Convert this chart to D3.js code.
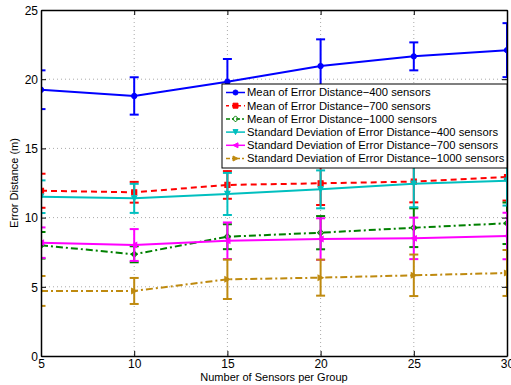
<!DOCTYPE html>
<html>
<head>
<meta charset="utf-8">
<script src="https://cdn.jsdelivr.net/npm/d3@7"></script>
<style>
  body { margin: 0; background: #fff; }
  svg text { font-family: "Liberation Sans", Arial, sans-serif; fill: #000; }
</style>
</head>
<body>
<svg id="chart"></svg>
<script>
// Values
const sensors = [5, 10, 15, 20, 25, 30];
const mean400 = [19.24, 18.79, 19.82, 20.95, 21.65, 22.1];
const mean400Err = [1.4, 1.35, 1.64, 1.93, 1.01, 1.95];
const mean700 = [11.94, 11.83, 12.36, 12.48, 12.6, 12.93];
const mean700Err = [1.23, 0.75, 1.0, 1.57, 1.5, 1.7];
const mean1000 = [8.0, 7.35, 8.62, 8.91, 9.27, 9.59];
const mean1000Err = [0.96, 0.58, 0.9, 1.2, 1.4, 1.5];
const std400 = [11.51, 11.39, 11.71, 12.04, 12.45, 12.67];
const std400Err = [1.18, 1.05, 1.52, 1.37, 1.7, 1.8];
const std700 = [8.19, 8.02, 8.33, 8.45, 8.5, 8.67];
const std700Err = [1.1, 1.15, 1.32, 1.5, 1.5, 1.68];
const std1000 = [4.7, 4.7, 5.54, 5.66, 5.83, 6.0];
const std1000Err = [1.08, 0.94, 1.42, 1.3, 1.5, 1.66];
const xTicks = [5, 10, 15, 20, 25, 30];
const yTicks = [0, 5, 10, 15, 20, 25];

const series = [
  {name: 'Mean of Error Distance\u2212400 sensors', y: mean400, e: mean400Err, color: '#0000ff', dash: null, marker: 'circle'},
  {name: 'Mean of Error Distance\u2212700 sensors', y: mean700, e: mean700Err, color: '#ff0000', dash: '6,4', marker: 'square'},
  {name: 'Mean of Error Distance\u22121000 sensors', y: mean1000, e: mean1000Err, color: '#008000', dash: '7,3,2,3', marker: 'diamond'},
  {name: 'Standard Deviation of Error Distance\u2212400 sensors', y: std400, e: std400Err, color: '#00bfbf', dash: null, marker: 'down'},
  {name: 'Standard Deviation of Error Distance\u2212700 sensors', y: std700, e: std700Err, color: '#ff00ff', dash: null, marker: 'left'},
  {name: 'Standard Deviation of Error Distance\u22121000 sensors', y: std1000, e: std1000Err, color: '#bf8a0f', dash: '7,3,2,3', marker: 'right'}
];

const W = 511, H = 385;
const margin = {top: 10, right: 4, bottom: 29, left: 41};
const width = W - margin.left - margin.right;
const height = H - margin.top - margin.bottom;

const svg = d3.select('#chart').attr('width', W).attr('height', H);
const chart = svg.append('g').attr('transform', `translate(${margin.left},${margin.top})`);

const xScale = d3.scaleLinear().domain([5, 30]).range([0, width]);
const yScale = d3.scaleLinear().domain([0, 25]).range([height, 0]);

svg.append('defs').append('clipPath').attr('id', 'clip')
  .append('rect').attr('width', width).attr('height', height);

// grid
chart.append('g').selectAll('line').data(xTicks.slice(1, -1)).join('line')
  .attr('x1', d => xScale(d)).attr('x2', d => xScale(d))
  .attr('y1', 0).attr('y2', height)
  .attr('stroke', '#aaa').attr('stroke-width', 1).attr('stroke-dasharray', '1,3');
chart.append('g').selectAll('line').data(yTicks.slice(1, -1)).join('line')
  .attr('y1', d => yScale(d)).attr('y2', d => yScale(d))
  .attr('x1', 0).attr('x2', width)
  .attr('stroke', '#aaa').attr('stroke-width', 1).attr('stroke-dasharray', '1,3');

// series
const plot = chart.append('g').attr('clip-path', 'url(#clip)');
const line = d3.line().x((d, i) => xScale(sensors[i])).y(d => yScale(d));

const markerPath = (type) => {
  const s = 2.5;
  switch (type) {
    case 'square': return `M${-s},${-s}h${2*s}v${2*s}h${-2*s}Z`;
    case 'diamond': return `M0,${-s-0.5}L${s+0.5},0L0,${s+0.5}L${-s-0.5},0Z`;
    case 'down': return `M${-s},${-s}L${s},${-s}L0,${s}Z`;
    case 'left': return `M${-s},0L${s},${-s}L${s},${s}Z`;
    case 'right': return `M${s},0L${-s},${-s}L${-s},${s}Z`;
    default: return d3.symbol(d3.symbolCircle, 20)();
  }
};

series.forEach(s => {
  const g = plot.append('g');
  // error bars
  const eb = g.selectAll('g.eb').data(s.y).join('g').attr('class', 'eb');
  eb.append('line')
    .attr('x1', (d, i) => xScale(sensors[i])).attr('x2', (d, i) => xScale(sensors[i]))
    .attr('y1', (d, i) => yScale(d + s.e[i])).attr('y2', (d, i) => yScale(d - s.e[i]))
    .attr('stroke', s.color).attr('stroke-width', 2);
  [1, -1].forEach(sign => {
    eb.append('line')
      .attr('x1', (d, i) => xScale(sensors[i]) - 4.5).attr('x2', (d, i) => xScale(sensors[i]) + 4.5)
      .attr('y1', (d, i) => yScale(d + sign * s.e[i])).attr('y2', (d, i) => yScale(d + sign * s.e[i]))
      .attr('stroke', s.color).attr('stroke-width', 2);
  });
  g.append('path').datum(s.y)
    .attr('d', line)
    .attr('fill', 'none').attr('stroke', s.color).attr('stroke-width', 2)
    .attr('stroke-dasharray', s.dash);
  g.selectAll('path.mk').data(s.y).join('path').attr('class', 'mk')
    .attr('transform', (d, i) => `translate(${xScale(sensors[i])},${yScale(d)})`)
    .attr('d', markerPath(s.marker))
    .attr('fill', s.marker === 'diamond' ? 'none' : s.color)
    .attr('stroke', s.color).attr('stroke-width', 1.2);
});

// axes (box with inward ticks)
const xAxis = d3.axisBottom(xScale).tickValues(xTicks).tickSizeInner(-5).tickSizeOuter(0).tickPadding(3);
const yAxis = d3.axisLeft(yScale).tickValues(yTicks).tickSizeInner(-5).tickSizeOuter(0).tickPadding(3);
const xAxisG = chart.append('g').attr('transform', `translate(0,${height})`).call(xAxis);
const yAxisG = chart.append('g').call(yAxis);
chart.append('g').call(d3.axisTop(xScale).tickValues(xTicks).tickSizeInner(-5).tickSizeOuter(0).tickFormat(''));
chart.append('g').attr('transform', `translate(${width},0)`)
  .call(d3.axisRight(yScale).tickValues(yTicks).tickSizeInner(-5).tickSizeOuter(0).tickFormat(''));
chart.selectAll('.domain').attr('stroke', '#000').attr('stroke-width', 1.5);
chart.selectAll('.tick line').attr('stroke', '#000');
xAxisG.selectAll('text').attr('font-size', 12).style('font-family', '"Liberation Sans", Arial, sans-serif');
yAxisG.selectAll('text').attr('font-size', 12).attr('dy', '0.35em').style('font-family', '"Liberation Sans", Arial, sans-serif');

// axis titles
svg.append('text')
  .attr('x', margin.left + width / 2).attr('y', 381)
  .attr('text-anchor', 'middle').attr('font-size', 11)
  .text('Number of Sensors per Group');
svg.append('text')
  .attr('transform', `translate(18,${margin.top + height / 2}) rotate(-90)`)
  .attr('text-anchor', 'middle').attr('font-size', 11)
  .text('Error Distance (m)');

// legend
const legend = svg.append('g').attr('transform', 'translate(222,84)');
legend.append('rect').attr('width', 285).attr('height', 84)
  .attr('fill', '#fff').attr('stroke', '#000').attr('stroke-width', 1);
const rows = legend.selectAll('g.row').data(series).join('g').attr('class', 'row')
  .attr('transform', (d, i) => `translate(0,${8.5 + i * 13.2})`);
rows.append('line').attr('x1', 4).attr('x2', 23)
  .attr('stroke', d => d.color).attr('stroke-width', 1.5)
  .attr('stroke-dasharray', d => d.dash ? (d.dash === '6,4' ? '3,3' : '4,2,2,2') : null);
rows.append('path')
  .attr('transform', 'translate(13.5,0)')
  .attr('d', d => markerPath(d.marker))
  .attr('fill', d => d.marker === 'diamond' ? 'none' : d.color)
  .attr('stroke', d => d.color).attr('stroke-width', 1);
rows.append('text').attr('x', 25).attr('dy', '0.35em').attr('font-size', 11.25)
  .text(d => d.name);
</script>
</body>
</html>
